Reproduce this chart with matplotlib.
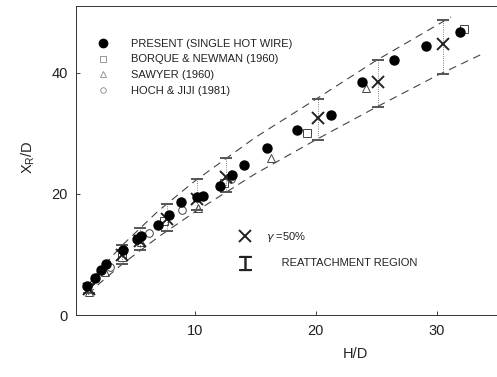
import numpy as np
import matplotlib
matplotlib.use("Agg")
import matplotlib.pyplot as plt
from matplotlib.lines import Line2D

plt.rcParams['font.family'] = ['Liberation Sans', 'DejaVu Sans']

# present data (single hot wire), filled circles
present_x = [1.1, 1.8, 2.3, 2.7, 4.1, 5.2, 5.6, 7.0, 7.9, 8.9, 10.2, 10.7,
             12.1, 13.1, 14.1, 16.0, 18.5, 21.3, 23.8, 26.5, 29.1, 31.9]
present_y = [4.8, 6.2, 7.5, 8.4, 10.8, 12.5, 13.0, 14.9, 16.6, 18.7, 19.5, 19.7,
             21.3, 23.1, 24.8, 27.5, 30.5, 33.0, 38.4, 42.1, 44.4, 46.7]

# other studies
borque_x = [4.0, 7.5, 12.4, 19.3, 32.3]
borque_y = [9.6, 15.5, 21.8, 30.0, 47.2]
sawyer_x = [1.3, 2.6, 5.6, 10.3, 16.3, 24.2]
sawyer_y = [3.8, 7.2, 12.0, 17.6, 25.9, 37.4]
hoch_x = [3.0, 6.2, 9.0, 13.0]
hoch_y = [8.0, 13.6, 17.4, 22.5]

# gamma = 50% points and reattachment region bars
gam_x = [1.3, 4.0, 5.5, 7.7, 10.2, 12.6, 20.2, 25.2, 30.5]
gam_y = [4.3, 10.0, 12.2, 15.8, 19.2, 22.8, 32.6, 38.5, 44.7]
reg_lo = [3.6, 8.4, 10.8, 13.9, 17.3, 20.3, 28.9, 34.4, 39.8]
reg_hi = [5.2, 11.5, 14.4, 18.3, 22.4, 26.0, 35.7, 42.1, 48.7]

# boundary lines of the reattachment region
upper_x = [1.2, 2, 4, 7, 10, 15, 20, 25, 31.2]
upper_y = [4.9, 7.1, 11.5, 17.2, 22.1, 29.3, 35.6, 42.0, 49.2]
lower_x = [1.2, 2, 4, 7, 10, 15, 20, 25, 30, 34]
lower_y = [3.4, 5.0, 8.4, 12.9, 17.0, 23.3, 28.9, 34.3, 39.5, 43.3]

ink = '#222222'

fig = plt.figure(figsize=(4.97, 3.77), dpi=100)
ax = fig.add_axes([0.153, 0.164, 0.847, 0.820])

ax.plot(upper_x, upper_y, color='#444444', lw=0.8, ls=(0, (7, 5)))
ax.plot(lower_x, lower_y, color='#444444', lw=0.8, ls=(0, (7, 5)))

yerr = [np.array(gam_y) - np.array(reg_lo), np.array(reg_hi) - np.array(gam_y)]
eb = ax.errorbar(gam_x, gam_y, yerr=yerr, fmt='x', color=ink, ms=8, mew=1.4,
                 ecolor='#555555', elinewidth=0.6, capsize=4, capthick=1.2, zorder=4)
eb[-1][0].set_linestyle(':')

ax.plot(borque_x, borque_y, 's', ms=5.5, mfc='none', mec='#444444', mew=0.7, zorder=3)
ax.plot(sawyer_x, sawyer_y, '^', ms=5.5, mfc='none', mec='#444444', mew=0.7, zorder=3)
ax.plot(hoch_x, hoch_y, 'o', ms=5.5, mfc='none', mec='#444444', mew=0.7, zorder=3)
ax.plot(present_x, present_y, 'o', ms=6.5, color='black', zorder=5)

ax.set_xlim(0.2, 35)
ax.set_ylim(0.15, 51)
ax.set_xticks([10, 20, 30])
ax.set_yticks([0, 20, 40])
ax.tick_params(direction='in', length=3, width=0.6, labelsize=10.5, colors=ink, pad=6)
for s in ['left', 'bottom', 'top']:
    ax.spines[s].set_linewidth(0.7)
    ax.spines[s].set_color('#333333')
ax.spines['top'].set_linestyle((0, (3, 1)))
ax.spines['right'].set_visible(False)

ax.set_xlabel('H/D', fontsize=10.5, color=ink, labelpad=7, x=0.663)
ax.set_ylabel('X$_\\mathregular{R}$/D', fontsize=10.5, color=ink, labelpad=10, y=0.51)

h1 = [Line2D([], [], ls='none', marker='o', ms=6, color='black'),
      Line2D([], [], ls='none', marker='s', ms=4, mfc='none', mec='#888888', mew=0.6),
      Line2D([], [], ls='none', marker='^', ms=4, mfc='none', mec='#888888', mew=0.6),
      Line2D([], [], ls='none', marker='o', ms=4, mfc='none', mec='#888888', mew=0.6)]
l1 = ['PRESENT (SINGLE HOT WIRE)', 'BORQUE & NEWMAN (1960)', 'SAWYER (1960)', 'HOCH & JIJI (1981)']
leg1 = ax.legend(h1, l1, loc='upper left', bbox_to_anchor=(0.04, 0.908), frameon=False,
                 fontsize=8, handlelength=1.0, handletextpad=2.0, labelspacing=0.5,
                 borderaxespad=0)
for t in leg1.get_texts():
    t.set_color(ink)
ax.add_artist(leg1)

h2 = [Line2D([], [], ls='none', marker='x', ms=8, mew=1.4, color=ink),
      Line2D([], [], ls='none', marker='$\u2336$', ms=10, color=ink)]
l2 = ['$\\gamma$ =50%', '     REATTACHMENT REGION']
leg2 = ax.legend(h2, l2, loc='upper left', bbox_to_anchor=(0.378, 0.29), frameon=False,
                 fontsize=8, handlelength=1.0, handletextpad=1.4, labelspacing=1.3,
                 borderaxespad=0)
for t in leg2.get_texts():
    t.set_color(ink)

fig.savefig('out.png', dpi=100)
